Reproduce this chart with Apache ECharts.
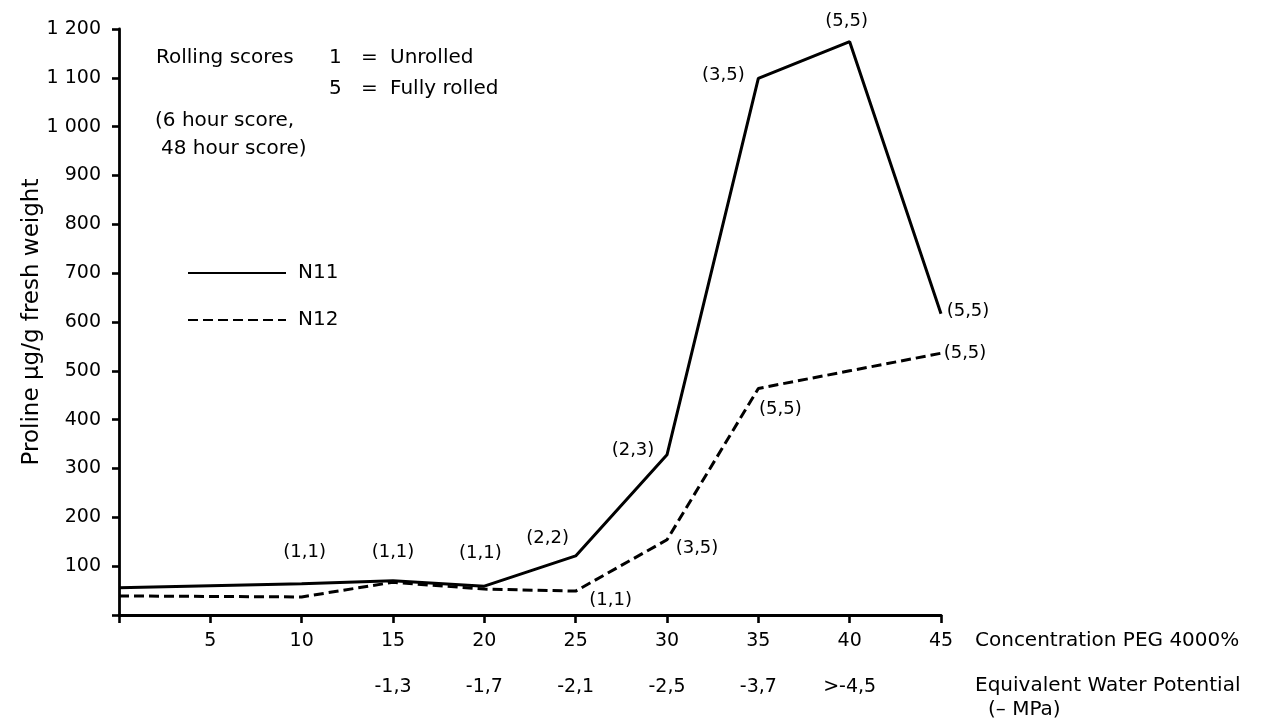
<!DOCTYPE html>
<html>
<head>
<meta charset="utf-8">
<script src="https://cdn.jsdelivr.net/npm/echarts@6/dist/echarts.min.js"></script>
<style>
  html, body { margin: 0; padding: 0; background: #fff; }
  #chart { width: 1265px; height: 726px; }
</style>
</head>
<body>
<div id="chart"></div>
<script>
// ---- data ----
const concentration = [0, 5, 10, 15, 20, 25, 30, 35, 40, 45];
const n11Values = [56, 60, 64, 70, 59, 121, 328, 1099, 1174, 617];
const n12Values = [39, 38, 37, 67, 53, 49, 154, 464, 500, 536];
const n11Scores = [null, null, '(1,1)', '(1,1)', '(1,1)', '(2,2)', '(2,3)', '(3,5)', '(5,5)', '(5,5)'];
const n12Scores = [null, null, null, null, null, '(1,1)', '(3,5)', '(5,5)', null, '(5,5)'];
const wpPositions = [15, 20, 25, 30, 35, 40];
const wpLabels = ['-1,3', '-1,7', '-2,1', '-2,5', '-3,7', '>-4,5'];
const yTicks = [100, 200, 300, 400, 500, 600, 700, 800, 900, 1000, 1100, 1200];

// ---- label placement (style only) ----
const n11LabelOffsets = [null, null, [3, -31], [0, -28], [-4, -33], [-28, -18], [-34, -4], [-35, -3], [-3, -20], [27, -2]];
const n12LabelOffsets = [null, null, null, null, null, [35, 9], [30, 9], [22, 21], null, [24, 0]];

const FONT = 'DejaVu Sans';
const BLACK = '#000';

function buildData(values, scores, offsets) {
  return concentration.map((x, i) => {
    const item = { value: [x, values[i]] };
    if (scores[i]) {
      item.label = { show: true, formatter: scores[i], position: 'inside', offset: offsets[i] };
    }
    return item;
  });
}

const labelBase = { show: false, color: BLACK, fontFamily: FONT, fontSize: 18 };

const chart = echarts.init(document.getElementById('chart'), null, { renderer: 'canvas' });
chart.setOption({
  animation: false,
  backgroundColor: '#fff',
  grid: { left: 119, right: 324, top: 29, bottom: 111, containLabel: false },
  legend: {
    data: ['N11', 'N12'],
    orient: 'vertical',
    left: 187,
    top: 263,
    padding: 0,
    itemWidth: 98,
    itemHeight: 14,
    itemGap: 27,
    textStyle: { color: BLACK, fontFamily: FONT, fontSize: 20, padding: [0, 0, 0, 7] },
    itemStyle: { opacity: 0 },
    selectedMode: false
  },
  xAxis: [
    {
      type: 'value', min: 0, max: 45, interval: 5,
      axisLine: { show: true, onZero: false, lineStyle: { color: BLACK, width: 2.8 } },
      axisTick: { show: true, length: 8, lineStyle: { color: BLACK, width: 2.6 } },
      splitLine: { show: false },
      axisLabel: {
        color: BLACK, fontFamily: FONT, fontSize: 19, margin: 17,
        formatter: v => (v === 0 ? '' : String(v))
      }
    },
    {
      type: 'value', min: 0, max: 45, interval: 5, position: 'bottom', offset: 46,
      axisLine: { show: false }, axisTick: { show: false }, splitLine: { show: false },
      axisLabel: {
        color: BLACK, fontFamily: FONT, fontSize: 19, margin: 17,
        formatter: v => { const k = wpPositions.indexOf(v); return k >= 0 ? wpLabels[k] : ''; }
      }
    }
  ],
  yAxis: {
    type: 'value', min: 0, max: 1200, interval: 100,
    name: 'Proline μg/g fresh weight',
    nameLocation: 'middle',
    nameGap: 75,
    nameMoveOverlap: false,
    nameTextStyle: { color: BLACK, fontFamily: FONT, fontSize: 23 },
    axisLine: { show: true, lineStyle: { color: BLACK, width: 2.8 } },
    axisTick: { show: true, length: 7, lineStyle: { color: BLACK, width: 2.6 } },
    splitLine: { show: false },
    axisLabel: {
      color: BLACK, fontFamily: FONT, fontSize: 19, margin: 18,
      formatter: v => {
        if (yTicks.indexOf(v) < 0) return '';
        return v >= 1000 ? String(v).replace(/\B(?=(\d{3})+$)/, ' ') : String(v);
      }
    }
  },
  series: [
    {
      name: 'N11', type: 'line', xAxisIndex: 0,
      symbol: 'circle', symbolSize: 1, showSymbol: true,
      itemStyle: { color: 'rgba(0,0,0,0)' },
      lineStyle: { color: BLACK, width: 3, type: 'solid' },
      label: labelBase,
      emphasis: { disabled: true },
      data: buildData(n11Values, n11Scores, n11LabelOffsets),
      z: 3
    },
    {
      name: 'N12', type: 'line', xAxisIndex: 0,
      symbol: 'circle', symbolSize: 1, showSymbol: true,
      itemStyle: { color: 'rgba(0,0,0,0)' },
      lineStyle: { color: BLACK, width: 3, type: [10, 5] },
      label: labelBase,
      emphasis: { disabled: true },
      data: buildData(n12Values, n12Scores, n12LabelOffsets),
      z: 2
    }
  ],
  graphic: [
    { type: 'text', left: 156, top: 48, style: { text: 'Rolling scores', fill: BLACK, font: '20px "DejaVu Sans"' } },
    { type: 'text', left: 329, top: 48, style: { text: '1', fill: BLACK, font: '20px "DejaVu Sans"' } },
    { type: 'text', left: 361, top: 48, style: { text: '=', fill: BLACK, font: '20px "DejaVu Sans"' } },
    { type: 'text', left: 390, top: 48, style: { text: 'Unrolled', fill: BLACK, font: '20px "DejaVu Sans"' } },
    { type: 'text', left: 329, top: 79, style: { text: '5', fill: BLACK, font: '20px "DejaVu Sans"' } },
    { type: 'text', left: 361, top: 79, style: { text: '=', fill: BLACK, font: '20px "DejaVu Sans"' } },
    { type: 'text', left: 390, top: 79, style: { text: 'Fully rolled', fill: BLACK, font: '20px "DejaVu Sans"' } },
    { type: 'text', left: 155, top: 111, style: { text: '(6 hour score,', fill: BLACK, font: '20px "DejaVu Sans"' } },
    { type: 'text', left: 161, top: 139, style: { text: '48 hour score)', fill: BLACK, font: '20px "DejaVu Sans"' } },
    { type: 'text', left: 975, top: 631, style: { text: 'Concentration PEG 4000%', fill: BLACK, font: '20px "DejaVu Sans"' } },
    { type: 'text', left: 975, top: 676, style: { text: 'Equivalent Water Potential', fill: BLACK, font: '20px "DejaVu Sans"' } },
    { type: 'text', left: 988, top: 700, style: { text: '(– MPa)', fill: BLACK, font: '20px "DejaVu Sans"' } }
  ]
});
</script>
</body>
</html>
